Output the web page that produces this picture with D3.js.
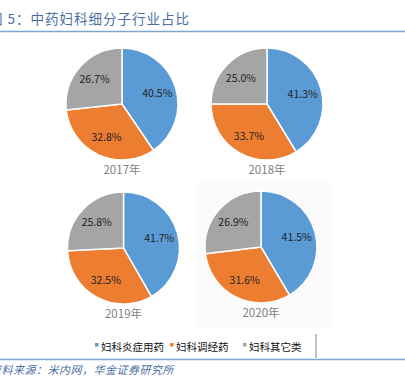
<!DOCTYPE html>
<html>
<head>
<meta charset="utf-8">
<script src="https://cdn.jsdelivr.net/npm/d3@7"></script>
<style>
  body { margin: 0; background: #fff; }
  text { font-family: "Noto Sans CJK SC", "Microsoft YaHei", sans-serif; }
</style>
</head>
<body>
<div class="canvas"></div>
<script>
// data
const years = ["2017年", "2018年", "2019年", "2020年"]
const categories = ["妇科炎症用药", "妇科调经药", "妇科其它类"]
const inflammation = [40.5, 41.3, 41.7, 41.5]
const menstrual = [32.8, 33.7, 32.5, 31.6]
const others = [26.7, 25.0, 25.8, 26.9]
const colors = ["#5b9bd5", "#ed7d31", "#a5a5a5"]

const width = 405
const height = 378

const svg = d3.select(".canvas")
    .append("svg")
    .attr("width", width)
    .attr("height", height)

/**
 * Title + rules
 */
svg.append("text")
    .attr("x", -11)
    .attr("y", 24)
    .attr("font-size", 13.5)
    .attr("fill", "#4a6fa5")
    .attr("letter-spacing", 1)
    .text("图 5：中药妇科细分子行业占比")

svg.append("line")
    .attr("x1", 0).attr("x2", width)
    .attr("y1", 31.5).attr("y2", 31.5)
    .attr("stroke", "#7ba7d3")
    .attr("stroke-width", 1.5)

// very faint panel behind the 2020 pie
svg.append("rect")
    .attr("x", 196).attr("y", 182)
    .attr("width", 136).attr("height", 146)
    .attr("fill", "#fbfbfb")

/**
 * Pies
 */
const centers = [[122, 104], [267, 104], [123.5, 248], [261, 247]]
const radius = 56

const pie = d3.pie().sort(null).value(d => d)
const arc = d3.arc().innerRadius(0).outerRadius(radius)
const labelArc = d3.arc().innerRadius(radius * 0.66).outerRadius(radius * 0.66)

years.forEach((year, i) => {
    const values = [inflammation[i], menstrual[i], others[i]]
    const g = svg.append("g")
        .attr("transform", `translate(${centers[i][0]},${centers[i][1]})`)

    const slices = g.selectAll("g.slice")
        .data(pie(values))
        .enter()
        .append("g")
        .attr("class", "slice")

    slices.append("path")
        .attr("d", arc)
        .attr("fill", (d, j) => colors[j])
        .attr("stroke", "#fff")
        .attr("stroke-width", 1.5)

    slices.append("text")
        .attr("transform", d => `translate(${labelArc.centroid(d)})`)
        .attr("text-anchor", "middle")
        .attr("dy", "0.35em")
        .attr("font-size", 10.5)
        .attr("fill", "#222")
        .text(d => d.data.toFixed(1) + "%")

    g.append("text")
        .attr("x", 0)
        .attr("y", radius + 14)
        .attr("text-anchor", "middle")
        .attr("font-size", 11.5)
        .attr("fill", "#7f7f7f")
        .text(year)
})

/**
 * Legend
 */
const legendX = [95, 170, 243]
const legend = svg.selectAll("g.legend")
    .data(categories)
    .enter()
    .append("g")
    .attr("class", "legend")
    .attr("transform", (d, i) => `translate(${legendX[i]}, 347)`)

legend.append("rect")
    .attr("x", 0).attr("y", -4)
    .attr("width", 3.5).attr("height", 3.5)
    .attr("fill", (d, i) => colors[i])

legend.append("text")
    .attr("x", 6)
    .attr("y", 0)
    .attr("dy", "0.35em")
    .attr("font-size", 10.5)
    .attr("fill", "#111")
    .text(d => d)

svg.append("line")
    .attr("x1", 316).attr("x2", 316)
    .attr("y1", 334).attr("y2", 358)
    .attr("stroke", "#888")
    .attr("stroke-width", 1)

svg.append("line")
    .attr("x1", 0).attr("x2", width)
    .attr("y1", 359.5).attr("y2", 359.5)
    .attr("stroke", "#7ba7d3")
    .attr("stroke-width", 1.5)

svg.append("text")
    .attr("x", -10)
    .attr("y", 374)
    .attr("font-size", 11)
    .attr("font-style", "italic")
    .attr("letter-spacing", 0.5)
    .attr("fill", "#4a6fa5")
    .text("资料来源：米内网，华金证券研究所")
</script>
</body>
</html>
